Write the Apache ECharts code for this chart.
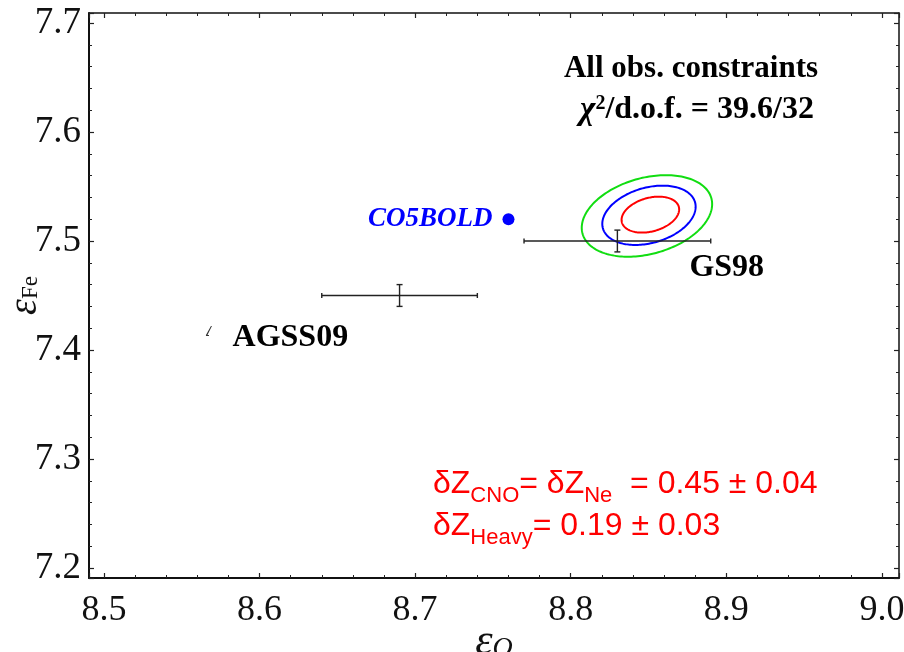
<!DOCTYPE html>
<html>
<head>
<meta charset="utf-8">
<script src="https://cdn.jsdelivr.net/npm/echarts@6/dist/echarts.min.js"></script>
<style>
  html, body { margin: 0; padding: 0; background: #fff; }
  #chart { width: 904px; height: 652px; }
</style>
</head>
<body>
<div id="chart"></div>
<script>
// Solar composition tables: oxygen vs iron abundance with 1σ errors
const modelNames = ['GS98', 'AGSS09'];
const modelO = [8.83, 8.69];
const modelOErr = [0.06, 0.05];
const modelFe = [7.50, 7.45];
const modelFeErr = [0.01, 0.01];

// 3D hydrodynamic model atmosphere value
const coboldNames = ['CO5BOLD'];
const coboldO = [8.76];
const coboldFe = [7.52];

// Extra AGSS09 marker
const agssMarkO = [8.5675];
const agssMarkFe = [7.4174];

// Best-fit confidence contours (1σ, 2σ, 3σ): centre, half-extent along each axis, correlation
const contourNames = ['1σ', '2σ', '3σ'];
const contourO = [8.8512, 8.8503, 8.8490];
const contourFe = [7.5242, 7.5236, 7.5230];
const contourHalfO = [0.0185, 0.0300, 0.0419];
const contourHalfFe = [0.0165, 0.0272, 0.0374];
const contourRho = [0.29, 0.29, 0.29];

// Axis ticks
const xTickLabels = [8.5, 8.6, 8.7, 8.8, 8.9, 9.0];
const yTickLabels = [7.2, 7.3, 7.4, 7.5, 7.6, 7.7];

const contourColors = ['#ff0000', '#0000ff', '#11dd11'];
const nameOffsets = { GS98: [72, 27], AGSS09: [-167, 42] };

const serif = '"Liberation Serif", "Times New Roman", serif';
const sans = '"Liberation Sans", Arial, sans-serif';

function tickFormatter(list) {
  return function (v) {
    for (const t of list) if (Math.abs(v - t) < 1e-6) return t.toFixed(1);
    return '';
  };
}

function renderContour(params, api) {
  const cO = api.value(0), cFe = api.value(1);
  const hO = api.value(2), hFe = api.value(3), rho = api.value(4);
  const s = Math.sqrt(1 - rho * rho);
  const pts = [];
  const n = 180;
  for (let i = 0; i < n; i++) {
    const t = (2 * Math.PI * i) / n;
    pts.push(api.coord([cO + hO * Math.cos(t), cFe + hFe * (rho * Math.cos(t) + s * Math.sin(t))]));
  }
  return {
    type: 'polygon',
    shape: { points: pts },
    style: { fill: 'none', stroke: contourColors[params.dataIndex], lineWidth: 2 }
  };
}

function renderErrorBar(params, api) {
  const o = api.value(0), fe = api.value(1), eo = api.value(2), ef = api.value(3);
  const name = modelNames[params.dataIndex];
  const c = api.coord([o, fe]);
  const l = api.coord([o - eo, fe]), r = api.coord([o + eo, fe]);
  const t = api.coord([o, fe + ef]), b = api.coord([o, fe - ef]);
  const st = { stroke: '#222', lineWidth: 1.4 };
  const capH = 2.5, capV = 3;
  const seg = (x1, y1, x2, y2) => ({ type: 'line', shape: { x1, y1, x2, y2 }, style: st });
  const off = nameOffsets[name];
  return {
    type: 'group',
    children: [
      seg(l[0], l[1], r[0], r[1]),
      seg(t[0], t[1], b[0], b[1]),
      seg(l[0], l[1] - capH, l[0], l[1] + capH),
      seg(r[0], r[1] - capH, r[0], r[1] + capH),
      seg(t[0] - capV, t[1], t[0] + capV, t[1]),
      seg(b[0] - capV, b[1], b[0] + capV, b[1]),
      {
        type: 'text',
        x: c[0] + off[0],
        y: c[1] + off[1],
        style: {
          text: name,
          font: 'bold 32px ' + serif,
          fill: '#000',
          align: 'left',
          verticalAlign: 'middle'
        }
      }
    ]
  };
}

const axisCommon = {
  type: 'value',
  splitNumber: 5,
  splitLine: { show: false },
  minorSplitLine: { show: false },
  axisTick: { show: true, inside: true, length: 5, lineStyle: { color: '#222', width: 1.2 } },
  minorTick: { show: true, splitNumber: 5, length: 3, lineStyle: { color: '#222', width: 1 } }
};

const chart = echarts.init(document.getElementById('chart'), null, { renderer: 'canvas' });

chart.setOption({
  animation: false,
  backgroundColor: '#fff',
  grid: { left: 89, right: 5, top: 13, bottom: 74, containLabel: false, outerBoundsMode: 'none' },
  xAxis: [
    Object.assign({}, axisCommon, {
      position: 'bottom',
      min: 8.4904, max: 9.011,
      axisLine: { show: true, onZero: false, lineStyle: { color: '#111', width: 2 } },
      axisLabel: {
        show: true, formatter: tickFormatter(xTickLabels), margin: 15,
        fontFamily: serif, fontSize: 36, color: '#111'
      },
      name: '{e|ε}{s|O}',
      nameLocation: 'middle',
      nameGap: 42,
      nameMoveOverlap: false,
      nameTextStyle: {
        rich: {
          e: { fontFamily: serif, fontStyle: 'italic', fontSize: 44, color: '#111' },
          s: { fontFamily: serif, fontStyle: 'italic', fontSize: 28, color: '#111', padding: [14, 0, 0, 0] }
        }
      }
    }),
    Object.assign({}, axisCommon, {
      position: 'top',
      min: 8.4904, max: 9.011,
      axisLine: { show: true, onZero: false, lineStyle: { color: '#111', width: 1.5 } },
      axisLabel: { show: false }
    })
  ],
  yAxis: [
    Object.assign({}, axisCommon, {
      position: 'left',
      min: 7.1908, max: 7.7092,
      axisLine: { show: true, onZero: false, lineStyle: { color: '#111', width: 2 } },
      axisLabel: {
        show: true, formatter: tickFormatter(yTickLabels), margin: 8,
        fontFamily: serif, fontSize: 37, color: '#111'
      },
      name: '{e|ε}{s|Fe}',
      nameLocation: 'middle',
      nameRotate: 90,
      nameGap: 44,
      nameMoveOverlap: false,
      nameTextStyle: {
        rich: {
          e: { fontFamily: serif, fontStyle: 'italic', fontSize: 40, color: '#111' },
          s: { fontFamily: serif, fontSize: 23, color: '#111', padding: [12, 0, 0, 0] }
        }
      }
    }),
    Object.assign({}, axisCommon, {
      position: 'right',
      min: 7.1908, max: 7.7092,
      axisLine: { show: true, onZero: false, lineStyle: { color: '#111', width: 1.5 } },
      axisLabel: { show: false }
    })
  ],
  series: [
    {
      name: 'contours',
      type: 'custom',
      xAxisIndex: 0, yAxisIndex: 0,
      renderItem: renderContour,
      silent: true,
      data: contourNames.map((n, i) => [contourO[i], contourFe[i], contourHalfO[i], contourHalfFe[i], contourRho[i]])
    },
    {
      name: 'models',
      type: 'custom',
      xAxisIndex: 0, yAxisIndex: 0,
      renderItem: renderErrorBar,
      silent: true,
      data: modelNames.map((n, i) => [modelO[i], modelFe[i], modelOErr[i], modelFeErr[i]])
    },
    {
      name: 'CO5BOLD',
      type: 'scatter',
      xAxisIndex: 0, yAxisIndex: 0,
      symbol: 'circle',
      symbolSize: 12,
      itemStyle: { color: '#0000ff', opacity: 1 },
      label: {
        show: true,
        position: 'left',
        distance: 10,
        formatter: (p) => coboldNames[p.dataIndex],
        fontFamily: serif, fontWeight: 'bold', fontStyle: 'italic', fontSize: 27, color: '#0000ff'
      },
      silent: true,
      data: coboldO.map((o, i) => [o, coboldFe[i]])
    },
    {
      name: 'AGSS09 marker',
      type: 'scatter',
      xAxisIndex: 0, yAxisIndex: 0,
      symbol: 'path://M5,0 L6,0 L1.5,9 L3,9 L3,10 L0,10 L0,9 Z',
      symbolSize: [6, 10],
      itemStyle: { color: '#333', opacity: 1 },
      silent: true,
      data: agssMarkO.map((o, i) => [o, agssMarkFe[i]])
    }
  ],
  graphic: [
    {
      type: 'text', x: 691, y: 69, silent: true,
      style: {
        text: 'All obs. constraints', font: 'bold 31px ' + serif,
        fill: '#000', align: 'center', verticalAlign: 'middle'
      }
    },
    {
      type: 'text', x: 697, y: 112, silent: true,
      style: {
        text: '{c|χ}{p|2}{t|/d.o.f. = 39.6/32}',
        align: 'center', verticalAlign: 'middle',
        rich: {
          c: { fontFamily: serif, fontWeight: 'bold', fontStyle: 'italic', fontSize: 33, lineHeight: 36, verticalAlign: 'top', fill: '#000' },
          p: { fontFamily: serif, fontWeight: 'bold', fontSize: 20, lineHeight: 20, verticalAlign: 'top', fill: '#000' },
          t: { fontFamily: serif, fontWeight: 'bold', fontSize: 32, lineHeight: 36, verticalAlign: 'top', fill: '#000' }
        }
      }
    },
    {
      type: 'text', x: 433, y: 468, silent: true,
      style: {
        text: '{m|δZ}{s|CNO}{m|= δZ}{s|Ne}{m|  = 0.45 ± 0.04}',
        align: 'left', verticalAlign: 'top',
        rich: {
          m: { fontFamily: sans, fontSize: 32, lineHeight: 36, verticalAlign: 'top', fill: '#ff0000' },
          s: { fontFamily: sans, fontSize: 22, lineHeight: 22, verticalAlign: 'top', padding: [17, 0, 0, 0], fill: '#ff0000' }
        }
      }
    },
    {
      type: 'text', x: 433, y: 510, silent: true,
      style: {
        text: '{m|δZ}{s|Heavy}{m|= 0.19 ± 0.03}',
        align: 'left', verticalAlign: 'top',
        rich: {
          m: { fontFamily: sans, fontSize: 32, lineHeight: 36, verticalAlign: 'top', fill: '#ff0000' },
          s: { fontFamily: sans, fontSize: 22, lineHeight: 22, verticalAlign: 'top', padding: [17, 0, 0, 0], fill: '#ff0000' }
        }
      }
    }
  ]
});
</script>
</body>
</html>
